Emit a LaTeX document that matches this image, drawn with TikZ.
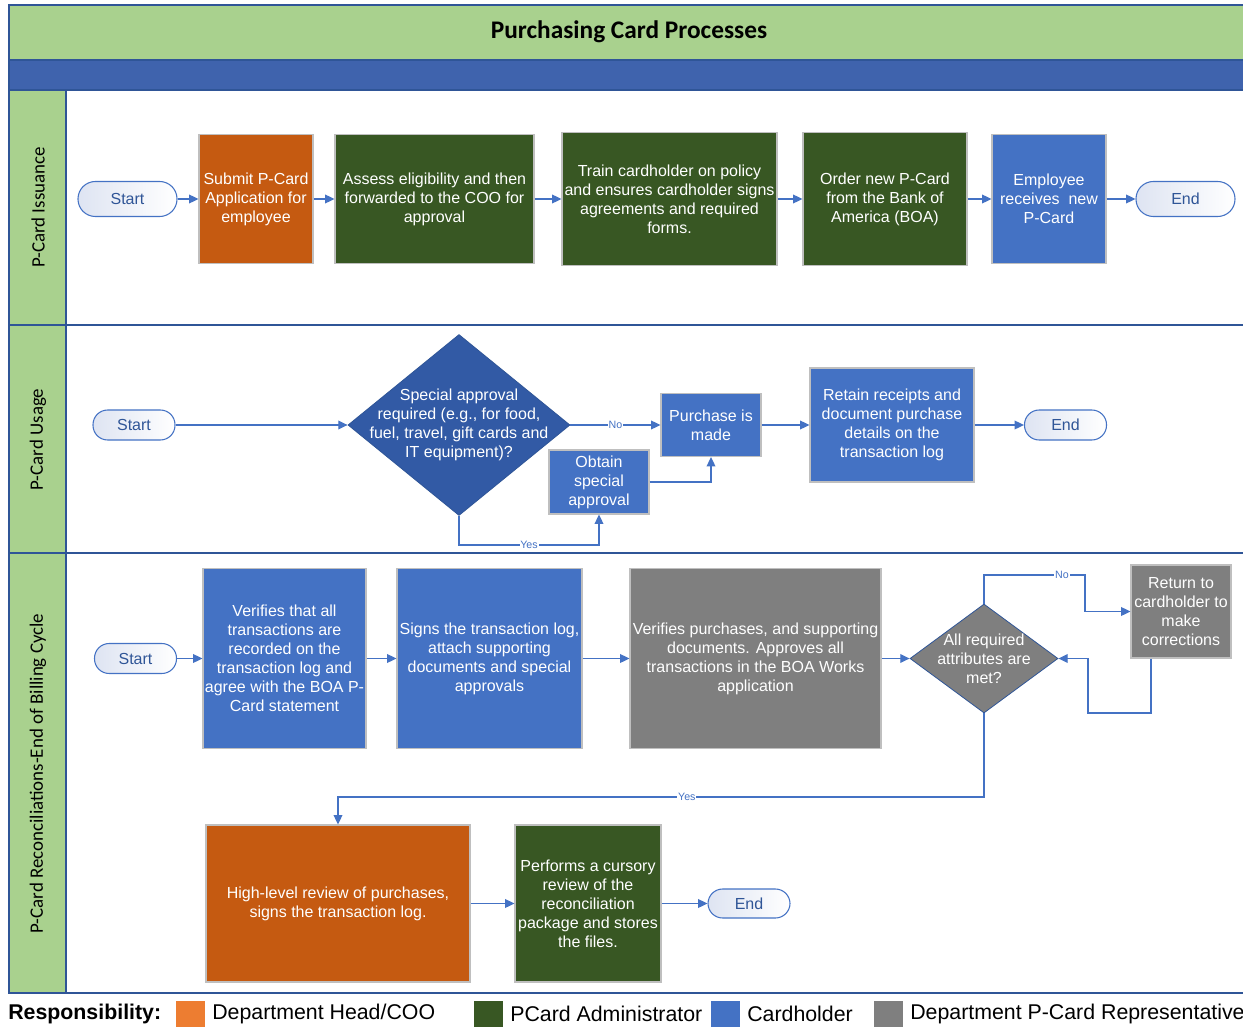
\documentclass[tikz,border=0pt]{standalone}
\usepackage{fontspec}
\setmainfont{Liberation Sans}
\newfontfamily\calibri{Carlito}
\usetikzlibrary{shapes.geometric,arrows.meta}

\definecolor{laneGreen}{RGB}{169,209,142}
\definecolor{bandBlue}{RGB}{63,99,173}
\definecolor{lineBlue}{RGB}{47,85,151}
\definecolor{flowBlue}{RGB}{68,114,196}
\definecolor{deptOrange}{RGB}{197,90,17}
\definecolor{adminGreen}{RGB}{56,87,35}
\definecolor{repGray}{RGB}{127,127,127}
\definecolor{keyOrange}{RGB}{237,125,49}
\definecolor{decideBlue}{RGB}{50,90,165}
\definecolor{termShade}{RGB}{222,228,242}

\begin{document}
\begin{tikzpicture}[x=0.75pt, y=-0.75pt,
    font=\fontsize{12}{14.25}\selectfont,
    term/.style = {draw=flowBlue, line width=0.8pt, rounded corners=11pt, left color=termShade, right color=white, text=lineBlue, inner sep=0pt, minimum width=61.5pt, minimum height=22.5pt},
    box/.style = {draw=black!25, line width=0.8pt, text=white, align=center, inner sep=1pt},
    orangebox/.style = {box, fill=deptOrange},
    greenbox/.style = {box, fill=adminGreen},
    bluebox/.style = {box, fill=flowBlue},
    graybox/.style = {box, fill=repGray},
    decide/.style = {diamond, draw=lineBlue, line width=0.6pt, inner sep=0pt},
    decidetext/.style = {text=white, align=center, inner sep=0pt},
    flow/.style = {draw=flowBlue, line width=1pt, -{Triangle[length=7pt,width=6.5pt]}},
    tag/.style = {fill=white, text=flowBlue, font=\fontsize{8}{9}\selectfont, inner sep=0.6pt},
    lanelabel/.style = {rotate=90, font=\calibri\fontsize{14.2}{16}\selectfont},
    keytext/.style = {anchor=west, font=\fontsize{16}{18}\selectfont, inner sep=0pt}]

\clip (0,0) rectangle (1243,1027);

% swimlane frame
\draw[lineBlue, line width=1.2pt, fill=laneGreen] (9,5) rectangle (1260,60);
\draw[lineBlue, line width=1.2pt, fill=bandBlue] (9,60) rectangle (1260,90);
\draw[lineBlue, line width=1.2pt, fill=white] (9,90) rectangle (1260,993);
\draw[lineBlue, line width=1.2pt, fill=laneGreen] (9,90) rectangle (66,993);
\draw[lineBlue, line width=1.2pt] (9,325) -- (1260,325);
\draw[lineBlue, line width=1.2pt] (9,553) -- (1260,553);

\node[font=\calibri\bfseries\fontsize{19}{22}\selectfont] (title) at (629,32) {Purchasing Card Processes};
\node[lanelabel] (issuance) at (38,207.5) {P-Card Issuance};
\node[lanelabel] (usage) at (38,439.5) {P-Card Usage};
\node[lanelabel] (reconcile) at (38,773.5) {P-Card Reconciliations-End of Billing Cycle};

% P-Card Issuance
\node[term, minimum width=74.25pt, minimum height=26.25pt, rounded corners=13pt] (start1) at (127.5,199) {Start};
\node[orangebox, minimum width=85.5pt, minimum height=96.75pt] (submit) at (256,199) {Submit P-Card\\Application for\\employee};
\node[greenbox, minimum width=149.25pt, minimum height=96.75pt] (assess) at (434.5,199) {Assess eligibility and then\\forwarded to the COO for\\approval};
\node[greenbox, minimum width=161.25pt, minimum height=99.75pt] (train) at (669.5,199) {Train cardholder on policy\\and ensures cardholder signs\\agreements and required\\forms.};
\node[greenbox, minimum width=123pt, minimum height=99.75pt] (order) at (885,199) {Order new P-Card\\from the Bank of\\America (BOA)};
\node[bluebox, minimum width=85.5pt, minimum height=96.75pt] (receive) at (1049,199) {Employee\\receives\ \ new\\P-Card};
\node[term, minimum width=74.25pt, minimum height=26.25pt, rounded corners=13pt] (end1) at (1185.5,199) {End};

% P-Card Usage
\node[term] (start2) at (134,425) {Start};
\node[decide, fill=decideBlue, minimum width=166.5pt, minimum height=135.75pt] (special) at (459,425) {};
\node[decidetext] (specialtext) at (special) {Special approval\\required (e.g., for food,\\fuel, travel, gift cards and\\IT equipment)?};
\node[bluebox, minimum width=75pt, minimum height=47.25pt] (purchase) at (711,425) {Purchase is\\made};
\node[bluebox, minimum width=75pt, minimum height=48pt] (obtain) at (599,482) {Obtain\\special\\approval};
\node[bluebox, minimum width=123pt, minimum height=85.5pt] (retain) at (892,425) {Retain receipts and\\document purchase\\details on the\\transaction log};
\node[term] (end2) at (1065.5,425) {End};
\coordinate (yes2) at (599,545);

% P-Card Reconciliations
\node[term] (start3) at (135.5,658.5) {Start};
\node[bluebox, minimum width=122.25pt, minimum height=135pt] (verify) at (284.5,658.5) {Verifies that all\\transactions are\\recorded on the\\transaction log and\\agree with the BOA P-\\Card statement};
\node[bluebox, minimum width=138.75pt, minimum height=135pt] (sign) at (489.5,658.5) {Signs the transaction log,\\attach supporting\\documents and special\\approvals};
\node[graybox, minimum width=188.25pt, minimum height=135pt] (check) at (755.5,658.5) {Verifies purchases, and supporting\\documents. Approves all\\transactions in the BOA Works\\application};
\node[decide, fill=repGray, minimum width=111pt, minimum height=81.75pt] (attrs) at (984,658.5) {};
\node[decidetext] (attrstext) at (attrs) {All required\\attributes are\\met?};
\node[graybox, minimum width=75pt, minimum height=69.75pt] (return) at (1181,611.5) {Return to\\cardholder to\\make\\corrections};
\node[orangebox, minimum width=198pt, minimum height=117.75pt] (review) at (338,903.5) {High-level review of purchases,\\signs the transaction log.};
\node[greenbox, minimum width=109.5pt, minimum height=117.75pt] (store) at (588,903.5) {Performs a cursory\\review of the\\reconciliation\\package and stores\\the files.};
\node[term, minimum height=21.75pt] (end3) at (749,903.5) {End};
\coordinate (no3a) at (1085,575);
\coordinate (no3b) at (1085,611.5);
\coordinate (back3a) at (1151,713);
\coordinate (back3b) at (1088,713);
\coordinate (yes3) at (338,797);

\draw[flow] (start1) -- (submit);
\draw[flow] (submit) -- (assess);
\draw[flow] (assess) -- (train);
\draw[flow] (train) -- (order);
\draw[flow] (order) -- (receive);
\draw[flow] (receive) -- (end1);

\draw[flow] (start2) -- (special);
\draw[flow] (special) -- node[tag]{No} (purchase);
\draw[flow] (special.south) |- node[tag, pos=.75]{Yes} (yes2) -- (obtain.south);
\draw[flow] (obtain.east) -| (purchase.south);
\draw[flow] (purchase) -- (retain);
\draw[flow] (retain) -- (end2);

\draw[flow] (start3) -- (verify);
\draw[flow] (verify) -- (sign);
\draw[flow] (sign) -- (check);
\draw[flow] (check) -- (attrs);
\draw[flow] (attrs.north) |- node[tag, pos=.886]{No} (no3a) -- (no3b) -- (return.west);
\draw[flow] (return.south -| back3a) -- (back3a) -- (back3b) |- (attrs.east);
\draw[flow] (attrs.south) |- node[tag, pos=.73]{Yes} (yes3) -- (review.north);
\draw[flow] (review) -- (store);
\draw[flow] (store) -- (end3);

% responsibility key
\node[keytext, font=\bfseries\fontsize{16}{18}\selectfont] (key) at (8,1014) {Responsibility:};
\fill[keyOrange] (176,1001) rectangle (205,1027);
\node[keytext] (keyhead) at (212,1014) {Department Head/COO};
\fill[adminGreen] (474,1001) rectangle (503,1027);
\node[keytext] (keyadmin) at (510,1014) {PCard Administrator};
\fill[flowBlue] (711,1001) rectangle (740,1027);
\node[keytext] (keyholder) at (747,1014) {Cardholder};
\fill[repGray] (874,1001) rectangle (903,1027);
\node[keytext] (keyrep) at (910,1014) {Department P-Card Representative};
\end{tikzpicture}
\end{document}
